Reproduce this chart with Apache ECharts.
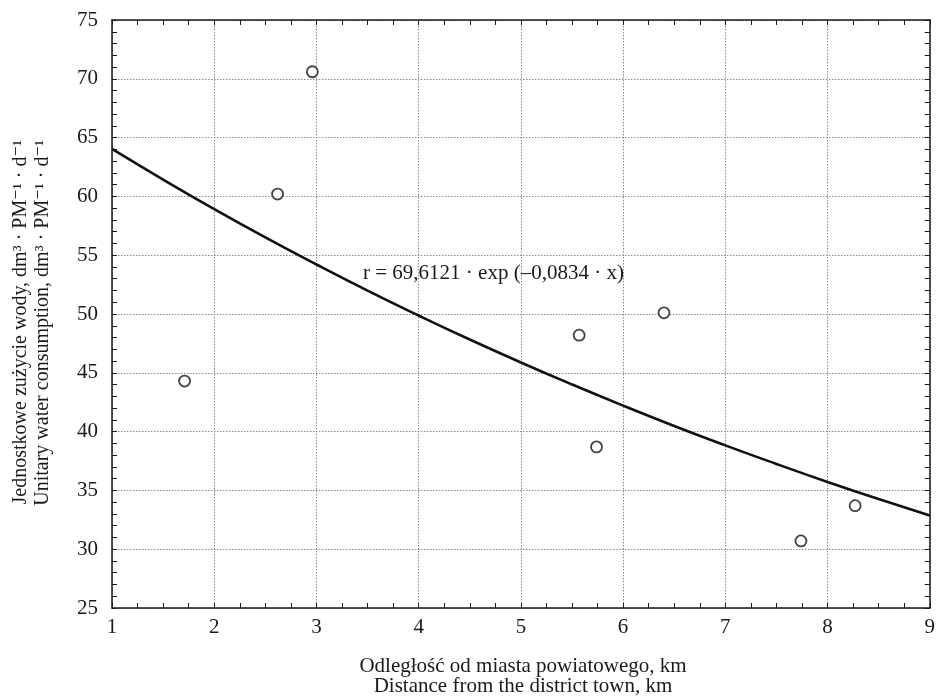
<!DOCTYPE html>
<html>
<head>
<meta charset="utf-8">
<script src="https://cdn.jsdelivr.net/npm/echarts@6/dist/echarts.min.js"></script>
<style>
html,body{margin:0;padding:0;background:#fff;}
#c{width:938px;height:696px;}
</style>
</head>
<body>
<div id="c"></div>
<script>
// Observed points (distance km, unitary water consumption)
const distanceKm = [1.71, 2.62, 2.96, 5.57, 5.74, 6.40, 7.74, 8.27];
const consumption = [44.3, 60.2, 70.6, 48.2, 38.7, 50.1, 30.7, 33.7];

// Fitted curve values
const curveX = [1, 1.5, 2, 2.5, 3, 3.5, 4, 4.5, 5, 5.5, 6, 6.5, 7, 7.5, 8, 8.5, 9];
const curveY = [64.04, 61.43, 58.92, 56.51, 54.21, 51.99, 49.87, 47.83, 45.88, 44.01, 42.21, 40.48, 38.83, 37.25, 35.72, 34.27, 32.87];

const xTicks = [1, 2, 3, 4, 5, 6, 7, 8, 9];
const yTicks = [25, 30, 35, 40, 45, 50, 55, 60, 65, 70, 75];

const equationText = 'r = 69,6121 · exp (–0,0834 · x)';
const yTitle1 = 'Jednostkowe zużycie wody, dm³ · PM⁻¹ · d⁻¹';
const yTitle2 = 'Unitary water consumption, dm³ · PM⁻¹ · d⁻¹';
const xTitle1 = 'Odległość od miasta powiatowego, km';
const xTitle2 = 'Distance from the district town, km';

const FONT = '"Liberation Serif", "DejaVu Serif", serif';
const FS = 21;

const chart = echarts.init(document.getElementById('c'));

const gridStyle = {color: '#8a8a8a', type: [1.5, 1.5], width: 1};

function baseX(pos, show) {
  return {
    type: 'value', position: pos,
    min: xTicks[0], max: xTicks[xTicks.length - 1], interval: 1,
    axisLine: {show: true, onZero: false, lineStyle: {color: '#1a1a1a', width: 1.5}},
    axisTick: {show: true, inside: true, length: 5, lineStyle: {color: '#1a1a1a', width: 1}},
    minorTick: {show: true, splitNumber: 4, length: 5, lineStyle: {color: '#1a1a1a', width: 1}},
    axisLabel: {show: show, color: '#1a1a1a', fontFamily: FONT, fontSize: FS, margin: 9},
    splitLine: {show: show, lineStyle: gridStyle},
    minorSplitLine: {show: false}
  };
}
function baseY(pos, show) {
  return {
    type: 'value', position: pos,
    min: yTicks[0], max: yTicks[yTicks.length - 1], interval: 5,
    axisLine: {show: true, onZero: false, lineStyle: {color: '#1a1a1a', width: 1.5}},
    axisTick: {show: true, inside: true, length: 5, lineStyle: {color: '#1a1a1a', width: 1}},
    minorTick: {show: true, splitNumber: 5, length: 5, lineStyle: {color: '#1a1a1a', width: 1}},
    axisLabel: {show: show, color: '#1a1a1a', fontFamily: FONT, fontSize: FS, margin: 14},
    splitLine: {show: show, lineStyle: gridStyle},
    minorSplitLine: {show: false}
  };
}

chart.setOption({
  backgroundColor: '#fff',
  animation: false,
  grid: {left: 112, top: 20, right: 2, bottom: 88, containLabel: false},
  xAxis: [baseX('bottom', true), baseX('top', false)],
  yAxis: [baseY('left', true), baseY('right', false)],
  series: [
    {
      type: 'line', xAxisIndex: 0, yAxisIndex: 0,
      data: curveX.map((x, i) => [x, curveY[i]]),
      smooth: true, symbol: 'none',
      lineStyle: {color: '#111', width: 2.6},
      z: 3
    },
    {
      type: 'scatter', xAxisIndex: 0, yAxisIndex: 0,
      data: distanceKm.map((x, i) => [x, consumption[i]]),
      symbol: 'circle', symbolSize: 11,
      itemStyle: {color: '#fff', borderColor: '#111', borderWidth: 1.8},
      z: 4
    }
  ],
  graphic: [
    {
      type: 'text', x: 363, y: 273,
      style: {text: equationText, font: FS + 'px ' + FONT, fill: '#1a1a1a', align: 'left', verticalAlign: 'middle'},
      z: 10
    },
    {
      type: 'text', x: 21, y: 140, rotation: Math.PI / 2,
      style: {text: yTitle1, font: '20px ' + FONT, fill: '#1a1a1a', align: 'right', verticalAlign: 'middle'},
      z: 10
    },
    {
      type: 'text', x: 43, y: 140, rotation: Math.PI / 2,
      style: {text: yTitle2, font: '20px ' + FONT, fill: '#1a1a1a', align: 'right', verticalAlign: 'middle'},
      z: 10
    },
    {
      type: 'text', x: 523, y: 666,
      style: {text: xTitle1, font: FS + 'px ' + FONT, fill: '#1a1a1a', align: 'center', verticalAlign: 'middle'},
      z: 10
    },
    {
      type: 'text', x: 523, y: 686,
      style: {text: xTitle2, font: FS + 'px ' + FONT, fill: '#1a1a1a', align: 'center', verticalAlign: 'middle'},
      z: 10
    }
  ]
});
</script>
</body>
</html>
